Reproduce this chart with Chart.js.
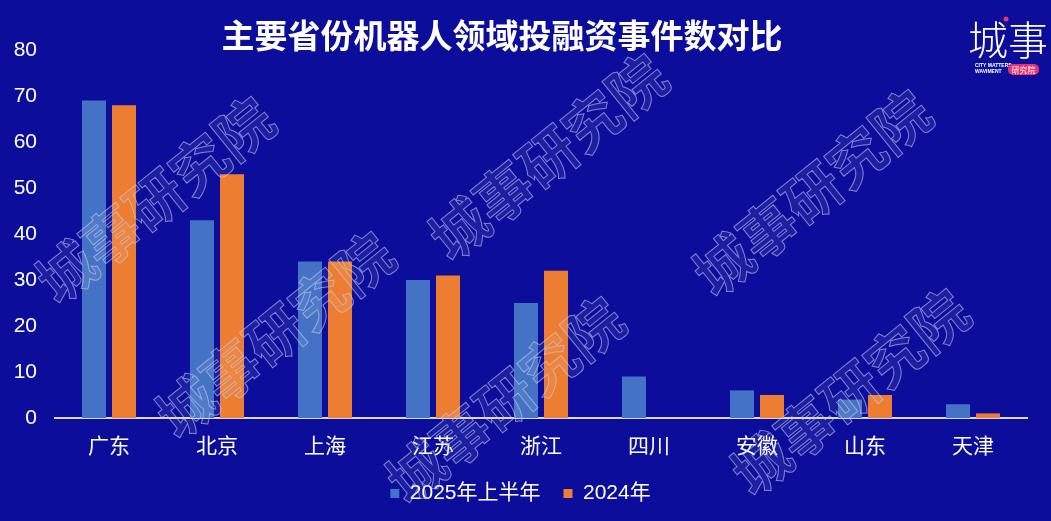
<!DOCTYPE html>
<html>
<head>
<meta charset="utf-8">
<script src="https://cdn.jsdelivr.net/npm/chart.js@4.4.0/dist/chart.umd.min.js"></script>
<style>
  html, body { margin: 0; padding: 0; background: #0c0e9b; }
  #wrap { width: 1051px; height: 521px; position: relative; }
</style>
</head>
<body>
<div id="wrap"><canvas id="myChart"></canvas></div>
<script>
// 数据
var categories = ["广东", "北京", "上海", "江苏", "浙江", "四川", "安徽", "山东", "天津"];
var firstHalf2025 = [69, 43, 34, 30, 25, 9, 6, 4, 3];
var year2024 = [68, 53, 34, 31, 32, 0, 5, 5, 1];
var seriesNames = ["2025年上半年", "2024年"];
var yMin = 0, yMax = 80, yStep = 10;
var titleText = "主要省份机器人领域投融资事件数对比";
var watermarkText = "城事研究院";

var BG = "#0c0e9b";
var FONT = "'Liberation Sans', 'Noto Sans CJK SC', sans-serif";
var CJK = "'Noto Sans CJK SC', sans-serif";

// 背景 + 标题 + 水印 + logo
var decoPlugin = {
  id: "deco",
  beforeDraw: function (chart) {
    var c = chart.ctx;
    c.save();
    c.fillStyle = BG;
    c.fillRect(0, 0, chart.width, chart.height);
    c.restore();
  },
  afterDraw: function (chart) {
    var c = chart.ctx;
    c.save();
    // 标题
    c.fillStyle = "#ffffff";
    c.font = "bold 33px " + CJK;
    c.textAlign = "center";
    c.textBaseline = "middle";
    c.fillText(titleText, 502, 35);

    // 水印
    var spots = [[155, 200], [548, 157], [812, 193], [275, 335], [505, 400], [850, 392]];
    c.font = "bold 57px " + CJK;
    c.lineWidth = 1;
    c.strokeStyle = "rgba(195, 205, 240, 0.6)";
    c.fillStyle = "rgba(255, 255, 255, 0.07)";
    spots.forEach(function (p) {
      c.save();
      c.translate(p[0], p[1]);
      c.rotate(-39 * Math.PI / 180);
      c.fillText(watermarkText, 0, 0);
      c.strokeText(watermarkText, 0, 0);
      c.restore();
    });

    // logo
    c.fillStyle = "#ffffff";
    c.font = "300 40px " + CJK;
    c.textAlign = "center";
    c.fillText("城事", 1008, 40);
    c.fillStyle = "#e8336d";
    c.beginPath();
    c.arc(1006, 19, 2.5, 0, Math.PI * 2);
    c.fill();
    c.fillStyle = "#ffffff";
    c.font = "bold 5px " + FONT;
    c.textAlign = "left";
    c.fillText("CITY MATTERS", 975, 66);
    c.fillText("WAVIMENT", 975, 72);
    c.fillStyle = "#e8336d";
    c.beginPath();
    c.roundRect(1008, 64, 31, 11, 5);
    c.fill();
    c.fillStyle = "#ffffff";
    c.font = "8px " + CJK;
    c.textAlign = "center";
    c.fillText("研究院", 1023.5, 69.5);
    c.restore();
  }
};

var ctx = document.getElementById("myChart");
var chart = new Chart(ctx, {
  type: "bar",
  data: {
    labels: categories,
    datasets: [
      {
        label: seriesNames[0],
        data: firstHalf2025,
        backgroundColor: "#4472c4",
        borderWidth: 0
      },
      {
        label: seriesNames[1],
        data: year2024,
        backgroundColor: "#ed7d31",
        borderWidth: 0
      }
    ]
  },
  options: {
    responsive: true,
    maintainAspectRatio: false,
    animation: false,
    layout: { padding: { top: 50, left: 14, right: 24, bottom: 7 } },
    datasets: {
      bar: { barPercentage: 0.8, categoryPercentage: 0.556 }
    },
    plugins: {
      title: { display: false },
      tooltip: { enabled: false },
      legend: {
        position: "bottom",
        labels: {
          color: "#ffffff",
          font: { family: FONT, size: 21 },
          boxWidth: 9,
          boxHeight: 9,
          padding: 23
        }
      }
    },
    scales: {
      x: {
        grid: { display: false, drawTicks: false },
        border: { display: true, color: "#d9d9d9", width: 2 },
        ticks: {
          color: "#ffffff",
          font: { family: FONT, size: 21 },
          padding: 17
        },
        afterFit: function (scale) { scale.height = 42; }
      },
      y: {
        min: yMin,
        max: yMax,
        grid: { display: false, drawTicks: false },
        border: { display: false },
        ticks: {
          stepSize: yStep,
          color: "#ffffff",
          font: { family: FONT, size: 21 },
          padding: 18
        },
        afterFit: function (scale) { scale.width = 41; }
      }
    }
  },
  plugins: [decoPlugin]
});
</script>
</body>
</html>
